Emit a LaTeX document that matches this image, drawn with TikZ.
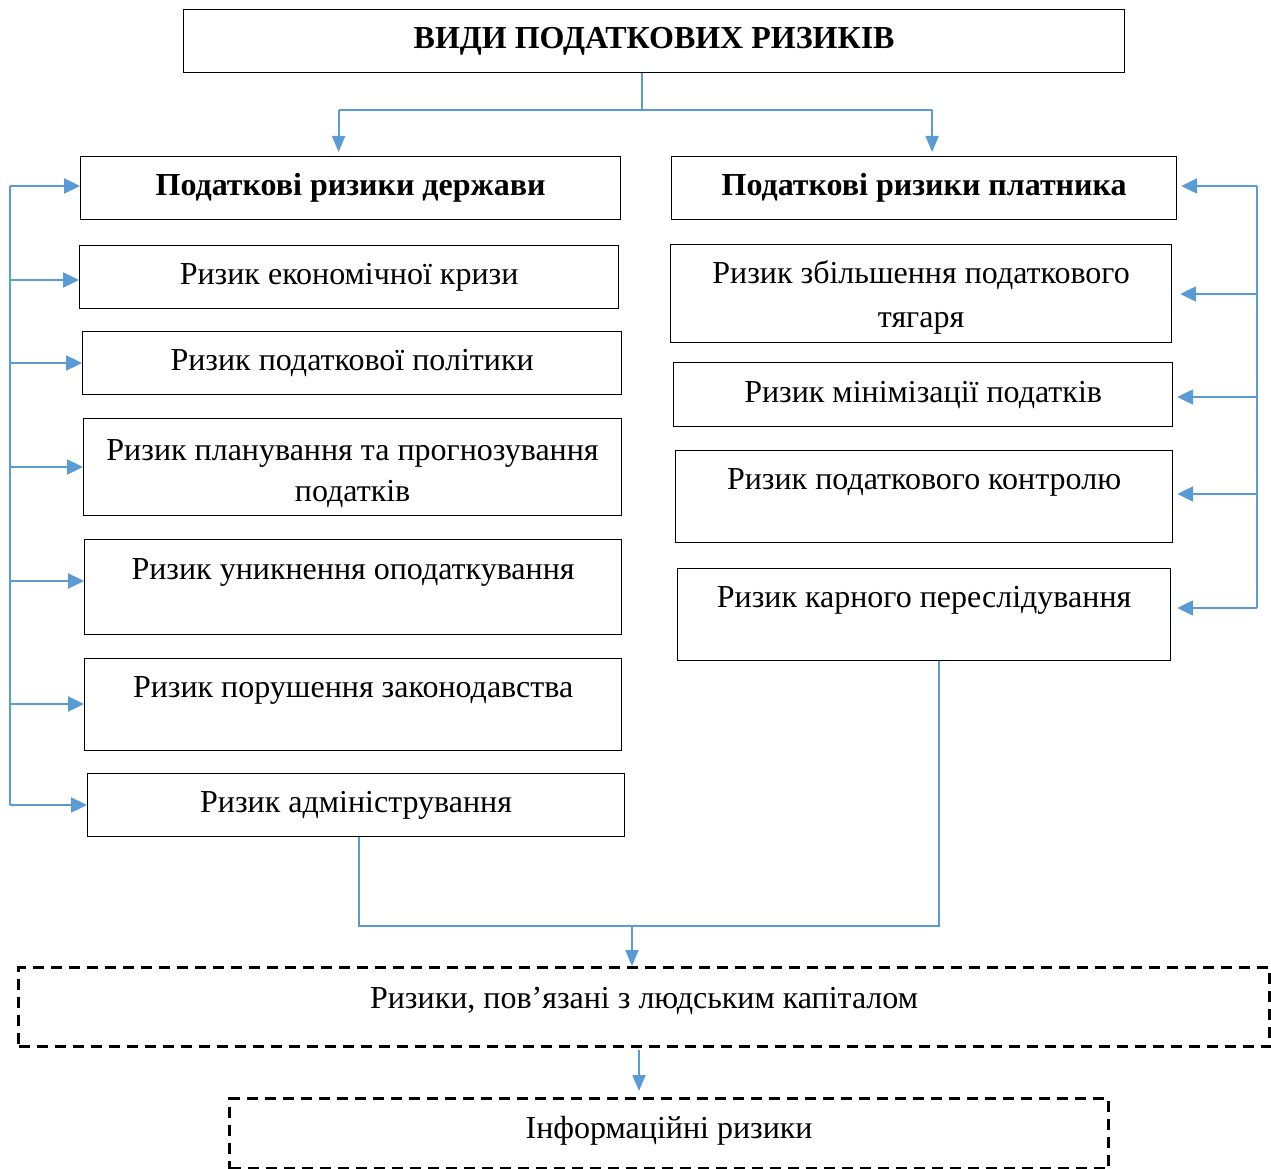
\documentclass[tikz,border=0pt]{standalone}
\usepackage{fontspec}
\setmainfont{Liberation Serif}
\usetikzlibrary{arrows.meta}
\definecolor{conn}{RGB}{91,155,213}
\begin{document}
\begin{tikzpicture}[x=1pt,y=-1pt,
  box/.style={draw=black, line width=1.2pt, inner sep=0pt, anchor=north west,
    font=\fontsize{32}{41}\selectfont, align=center},
  hbox/.style={box, font=\fontsize{32}{41}\selectfont\bfseries},
  topt/.style={text height=22pt, text depth=37pt},
  dbox/.style={draw=black, line width=3.2pt, dash pattern=on 11pt off 7pt, inner sep=0pt,
    anchor=north west, font=\fontsize{32}{41}\selectfont, align=center},
  link/.style={draw=conn, line width=1.3pt},
  arr/.style={draw=conn, line width=2.4pt, -{Triangle[length=16pt,width=15pt]}},
  darr/.style={draw=conn, line width=2pt, -{Triangle[length=16pt,width=13pt]}}
]
\useasboundingbox (0,0) rectangle (1271,1169);

% title
\node[hbox, minimum width=941pt, minimum height=63pt] (t) at (183,9) {ВИДИ ПОДАТКОВИХ РИЗИКІВ};

% headers
\node[hbox, minimum width=540pt, minimum height=63pt] (lh) at (80,156) {Податкові ризики держави};
\node[hbox, minimum width=505pt, minimum height=63pt] (rh) at (671,156) {Податкові ризики платника};

% left column
\node[box, minimum width=539pt, minimum height=63pt] (l1) at (79,245) {Ризик економічної кризи};
\node[box, minimum width=539pt, minimum height=63pt] (l2) at (82,331) {Ризик податкової політики};
\node[box, minimum width=538pt, minimum height=97pt] (l3) at (83,418) {\rule{0pt}{34pt}Ризик планування та прогнозування\\податків};
\node[box, topt, minimum width=537pt, minimum height=95pt] (l4) at (84,539) {Ризик уникнення оподаткування};
\node[box, topt, minimum width=537pt, minimum height=92pt] (l5) at (84,658) {Ризик порушення законодавства};
\node[box, minimum width=537pt, minimum height=63pt] (l6) at (87,773) {Ризик адміністрування};

% right column
\node[box, minimum width=501pt, minimum height=98pt] (r1) at (670,244) {\rule{0pt}{30pt}Ризик збільшення податкового\\[3pt]тягаря};
\node[box, minimum width=499pt, minimum height=64pt] (r2) at (673,362) {Ризик мінімізації податків};
\node[box, topt, minimum width=497pt, minimum height=92pt] (r3) at (675,450) {Ризик податкового контролю};
\node[box, topt, minimum width=493pt, minimum height=92pt] (r4) at (677,568) {Ризик карного переслідування};

% bottom dashed boxes
\node[dbox, minimum width=1251pt, minimum height=79pt] (d1) at (17,966) {\raisebox{19pt}{Ризики, пов’язані з людським капіталом}};
\node[dbox, minimum width=879pt, minimum height=70pt] (d2) at (228,1097) {\raisebox{13pt}{Інформаційні ризики}};

% top split
\coordinate (ts) at (642,110);
\draw[link] (t.south -| ts) -- (ts);
\draw[link] ([xshift=-12pt]lh.north |- ts) -- ([xshift=8pt]rh.north |- ts);
\draw[darr] ([xshift=-12pt]lh.north |- ts) -- ([xshift=-12pt,yshift=4pt]lh.north);
\draw[darr] ([xshift=8pt]rh.north |- ts) -- ([xshift=8pt,yshift=4pt]rh.north);

% left bus
\coordinate (L0) at (10,186);
\coordinate (L1) at (10,280);
\coordinate (L2) at (10,363);
\coordinate (L3) at (10,467);
\coordinate (L4) at (10,581);
\coordinate (L5) at (10,704);
\coordinate (L6) at (10,805);
\draw[link] (L0) -- (L6);
\draw[arr] (L0) -- (L0 -| lh.west);
\draw[arr] (L1) -- (L1 -| l1.west);
\draw[arr] (L2) -- (L2 -| l2.west);
\draw[arr] (L3) -- (L3 -| l3.west);
\draw[arr] (L4) -- (L4 -| l4.west);
\draw[arr] (L5) -- (L5 -| l5.west);
\draw[arr] (L6) -- (L6 -| l6.west);

% right bus
\coordinate (R0) at (1257,186);
\coordinate (R1) at (1257,294);
\coordinate (R2) at (1257,397);
\coordinate (R3) at (1257,494);
\coordinate (R4) at (1257,608);
\draw[link] (R0) -- (R4);
\draw[arr, shorten >=4pt] (R0) -- (R0 -| rh.east);
\draw[arr, shorten >=8pt] (R1) -- (R1 -| r1.east);
\draw[arr, shorten >=4pt] (R2) -- (R2 -| r2.east);
\draw[arr, shorten >=4pt] (R3) -- (R3 -| r3.east);
\draw[arr, shorten >=6pt] (R4) -- (R4 -| r4.east);

% bottom merge
\coordinate (bm) at (632,926);
\draw[link] ([xshift=3pt]l6.south) -- ([xshift=3pt]l6.south |- bm) -- ([xshift=15pt]r4.south |- bm) -- ([xshift=15pt]r4.south);
\draw[darr] (bm) -- (bm |- d1.north);
\coordinate (bm2) at (639,1050);
\draw[darr] (bm2) -- ([yshift=6pt]d2.north -| bm2);
\end{tikzpicture}
\end{document}
